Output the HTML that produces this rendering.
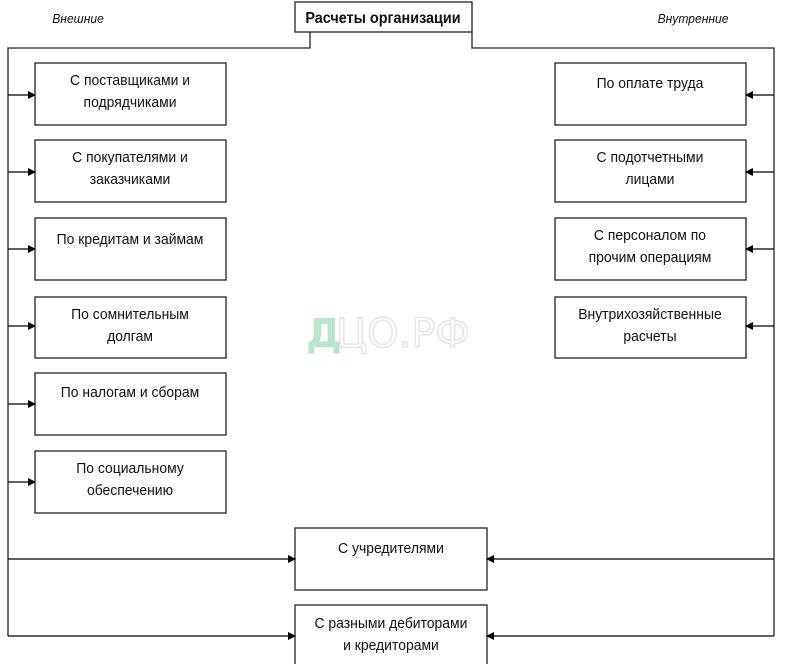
<!DOCTYPE html>
<html><head><meta charset="utf-8"><style>
html,body{margin:0;padding:0;background:#fff;}
svg{display:block;}
text{font-family:"Liberation Sans",sans-serif;font-size:15px;fill:#111;text-anchor:middle;}
</style></head><body>
<svg width="799" height="664" viewBox="0 0 799 664" xmlns="http://www.w3.org/2000/svg">
<defs><marker id="a" markerWidth="8" markerHeight="8" refX="7" refY="4" orient="auto" markerUnits="userSpaceOnUse"><path d="M0,0 L8,4 L0,8 z" fill="#000"/></marker></defs>
<g fill="none" stroke="#222" stroke-width="1.3">
<path d="M310,32 V48 H8 V636"/>
<path d="M472,32 V48 H774 V636"/>
<rect x="295" y="2" width="177" height="30" fill="#fff"/>
<rect x="35" y="63" width="191" height="62"/>
<rect x="35" y="140" width="191" height="62"/>
<rect x="35" y="218" width="191" height="62"/>
<rect x="35" y="297" width="191" height="61"/>
<rect x="35" y="373" width="191" height="62"/>
<rect x="35" y="451" width="191" height="62"/>
<rect x="555" y="63" width="191" height="62"/>
<rect x="555" y="140" width="191" height="62"/>
<rect x="555" y="218" width="191" height="62"/>
<rect x="555" y="297" width="191" height="61"/>
<rect x="295" y="528" width="192" height="62"/>
<rect x="295" y="605" width="192" height="62"/>
</g>
<g stroke="#000" stroke-width="1.3" marker-end="url(#a)">
<line x1="8" y1="95" x2="35" y2="95"/>
<line x1="8" y1="172" x2="35" y2="172"/>
<line x1="8" y1="249" x2="35" y2="249"/>
<line x1="8" y1="326" x2="35" y2="326"/>
<line x1="8" y1="404" x2="35" y2="404"/>
<line x1="8" y1="482" x2="35" y2="482"/>
<line x1="774" y1="95" x2="746" y2="95"/>
<line x1="774" y1="172" x2="746" y2="172"/>
<line x1="774" y1="249" x2="746" y2="249"/>
<line x1="774" y1="326" x2="746" y2="326"/>
<line x1="8" y1="559" x2="295" y2="559"/>
<line x1="8" y1="636" x2="295" y2="636"/>
<line x1="774" y1="559" x2="487" y2="559"/>
<line x1="774" y1="636" x2="487" y2="636"/>
</g>
<g transform="scale(0.93,1)">
<text x="83.9" y="23" style="font-style:italic;font-size:13px">Внешние</text>
<text x="745.2" y="23" style="font-style:italic;font-size:13px">Внутренние</text>
<text x="411.8" y="23" style="font-weight:bold;font-size:15.5px">Расчеты организации</text>
<text x="139.8" y="85">С поставщиками и</text><text x="139.8" y="107">подрядчиками</text>
<text x="139.8" y="162">С покупателями и</text><text x="139.8" y="184">заказчиками</text>
<text x="139.8" y="244">По кредитам и займам</text>
<text x="139.8" y="319">По сомнительным</text><text x="139.8" y="341">долгам</text>
<text x="139.8" y="397">По налогам и сборам</text>
<text x="139.8" y="473">По социальному</text><text x="139.8" y="495">обеспечению</text>
<text x="698.9" y="88">По оплате труда</text>
<text x="698.9" y="162">С подотчетными</text><text x="698.9" y="184">лицами</text>
<text x="698.9" y="240">С персоналом по</text><text x="698.9" y="262">прочим операциям</text>
<text x="698.9" y="319">Внутрихозяйственные</text><text x="698.9" y="341">расчеты</text>
<text x="420.4" y="553">С учредителями</text>
<text x="420.4" y="628">С разными дебиторами</text><text x="420.4" y="650">и кредиторами</text>
</g>
<text x="306" y="347" style="font-family:'DejaVu Sans',sans-serif;font-weight:bold;font-size:40px;fill:#b6e6cc;text-anchor:start">Д</text>
<text x="336" y="347" style="font-family:'DejaVu Sans',sans-serif;font-size:40px;fill:none;stroke:#e6e6e6;stroke-width:1.5;text-anchor:start">ЦО.РФ</text>
</svg>
</body></html>
